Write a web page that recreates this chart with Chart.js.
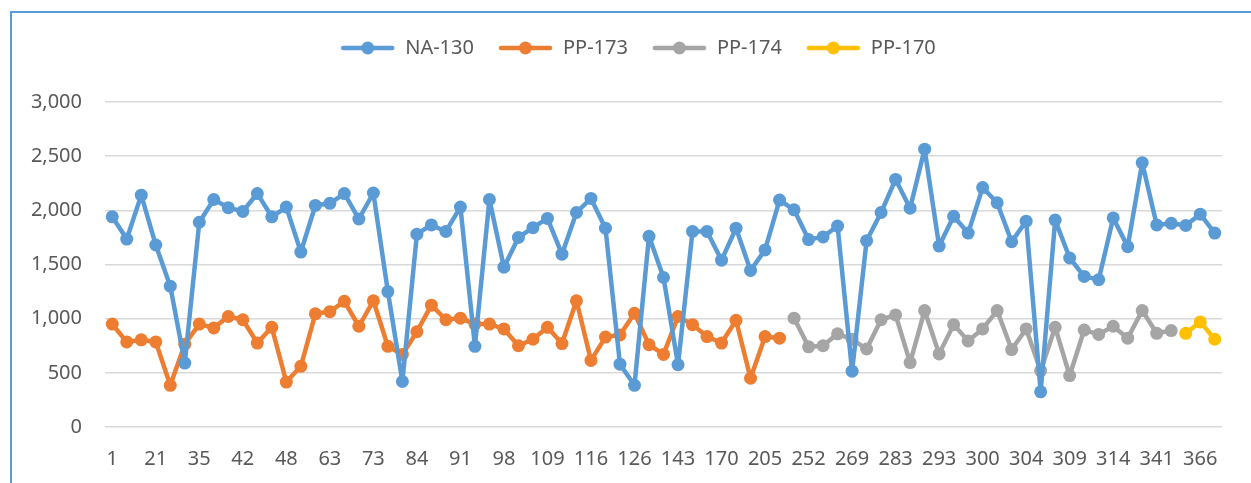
<!DOCTYPE html>
<html>
<head>
<meta charset="utf-8">
<script src="https://cdn.jsdelivr.net/npm/chart.js"></script>
<style>
  body { margin: 0; background: #fff; }
  .wrap { position: relative; width: 1251px; height: 483px; overflow: hidden; }
  .frame {
    position: absolute; left: 10px; top: 11px; right: 0; bottom: 0;
    border-top: 2px solid #5b9bd5; border-left: 2px solid #5b9bd5;
    pointer-events: none;
  }
</style>
</head>
<body>
<div class="wrap">
  <canvas id="chart" width="1251" height="483"></canvas>
  <div class="frame"></div>
</div>
<script>
// category labels (only every third one is printed, like the original)
const labels = [
  1, 8, 14, 21, 25, 30, 35, 37, 40, 42, 44, 46, 48, 53, 58, 63, 67, 70, 73, 77,
  80, 84, 86, 89, 91, 94, 96, 98, 102, 105, 109, 111, 114, 116, 119, 122, 126, 131, 137, 143,
  152, 161, 170, 182, 194, 205, 221, 237, 252, 258, 264, 269, 274, 279, 283, 287, 290, 293, 295, 298,
  300, 301, 303, 304, 306, 307, 309, 311, 312, 314, 323, 332, 341, 349, 358, 366, 370
].map(String);

const na130 = [
  1940, 1735, 2140, 1680, 1300, 590, 1890, 2100, 2025, 1990, 2155, 1940, 2030, 1615, 2045, 2065, 2155, 1920, 2160, 1250,
  420, 1780, 1865, 1805, 2030, 745, 2100, 1475, 1750, 1840, 1925, 1595, 1980, 2110, 1835, 580, 385, 1760, 1380, 575,
  1805, 1805, 1540, 1835, 1445, 1635, 2095, 2005, 1730, 1755, 1855, 515, 1720, 1980, 2285, 2020, 2565, 1670, 1945, 1790,
  2210, 2070, 1710, 1900, 325, 1910, 1560, 1390, 1360, 1930, 1665, 2440, 1865, 1880, 1860, 1965, 1790
];

// PP-173 covers categories 0..46
const pp173 = [
  950, 785, 805, 785, 385, 765, 950, 915, 1020, 990, 775, 920, 415, 560, 1045, 1065, 1160, 930, 1165, 745,
  670, 880, 1125, 990, 1005, 950, 950, 905, 750, 810, 920, 770, 1165, 615, 830, 850, 1050, 760, 670, 1020,
  945, 835, 775, 985, 450, 835, 820
];
const pp173Start = 0;

// PP-174 covers categories 47..73
const pp174 = [
  1005, 740, 750, 860, 810, 720, 990, 1035, 595, 1075, 675, 945, 795, 905, 1075, 715, 905, 520, 920, 475,
  895, 855, 930, 820, 1075, 865, 890
];
const pp174Start = 47;

// PP-170 covers categories 74..76
const pp170 = [865, 970, 810];
const pp170Start = 74;

const yTicks = [0, 500, 1000, 1500, 2000, 2500, 3000];

const pad = (start, vals) => labels.map((_, i) => (i >= start && i < start + vals.length ? vals[i - start] : null));

const colors = {
    na130: '#5b9bd5',
    pp173: '#ed7d31',
    pp174: '#a5a5a5',
    pp170: '#ffc000'
};

// line + dot icon for the legend
const legendIcon = (color) => {
    const c = document.createElement('canvas');
    c.width = 55;
    c.height = 16;
    const g = c.getContext('2d');
    g.strokeStyle = color;
    g.fillStyle = color;
    g.lineWidth = 4.5;
    g.lineCap = 'round';
    g.beginPath();
    g.moveTo(3, 8);
    g.lineTo(52, 8);
    g.stroke();
    g.beginPath();
    g.arc(27.5, 8, 6.5, 0, Math.PI * 2);
    g.fill();
    return c;
};

const makeSet = (label, data, color) => ({
    label: label,
    data: data,
    borderColor: color,
    backgroundColor: color,
    borderWidth: 4.5,
    borderJoinStyle: 'round',
    borderCapStyle: 'round',
    pointRadius: 6.5,
    pointHoverRadius: 6.5,
    pointBorderWidth: 0,
    pointBackgroundColor: color,
    tension: 0,
    spanGaps: false,
    legendIcon: legendIcon(color)
});

// extra room under the legend, and nudge it to the right like the original
const legendGap = {
    id: 'legendGap',
    beforeInit(chart) {
        const fit = chart.legend.fit;
        chart.legend.fit = function () {
            fit.call(this);
            this.height += 34;
        };
    },
    afterLayout(chart) {
        chart.legend.left += 44;
    }
};

Chart.defaults.font.family = "'Noto Sans', sans-serif";
Chart.defaults.font.size = 20;
Chart.defaults.color = '#595959';

new Chart(document.getElementById('chart'), {
    type: 'line',
    data: {
        labels: labels,
        datasets: [
            makeSet('NA-130', na130, colors.na130),
            makeSet('PP-173', pad(pp173Start, pp173), colors.pp173),
            makeSet('PP-174', pad(pp174Start, pp174), colors.pp174),
            makeSet('PP-170', pad(pp170Start, pp170), colors.pp170)
        ]
    },
    options: {
        responsive: false,
        animation: false,
        layout: {
            padding: { left: 10, right: 29, top: 14, bottom: 6 }
        },
        plugins: {
            tooltip: { enabled: false },
            legend: {
                position: 'top',
                labels: {
                    usePointStyle: true,
                    pointStyleWidth: 55,
                    padding: 24,
                    color: '#595959',
                    font: { size: 20 },
                    generateLabels(chart) {
                        const items = Chart.defaults.plugins.legend.labels.generateLabels(chart);
                        items.forEach((item) => {
                            item.pointStyle = chart.data.datasets[item.datasetIndex].legendIcon;
                        });
                        return items;
                    }
                }
            }
        },
        scales: {
            x: {
                offset: true,
                afterFit(scale) {
                    scale.height = 50;
                },
                grid: { display: false, drawTicks: false },
                border: { display: false },
                ticks: {
                    autoSkip: false,
                    maxRotation: 0,
                    padding: 20,
                    callback(value, index) {
                        return index % 3 === 0 ? this.getLabelForValue(value) : '';
                    }
                }
            },
            y: {
                min: yTicks[0],
                max: yTicks[yTicks.length - 1],
                afterFit(scale) {
                    scale.width = 95;
                },
                afterBuildTicks(scale) {
                    scale.ticks = yTicks.map((v) => ({ value: v }));
                },
                grid: { color: '#d9d9d9', lineWidth: 1.5, drawTicks: false },
                border: { display: false },
                ticks: {
                    padding: 23,
                    callback: (value) => value.toLocaleString('en-US')
                }
            }
        }
    },
    plugins: [legendGap]
});
</script>
</body>
</html>
